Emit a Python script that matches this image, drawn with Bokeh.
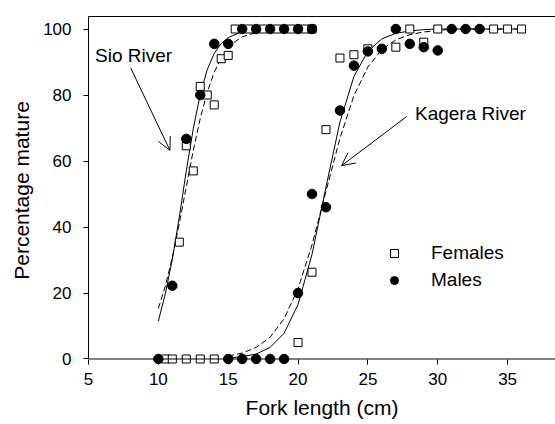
from bokeh.plotting import figure
from bokeh.models import (Range1d, LinearAxis, FixedTicker, Span, Label, Arrow,
                          OpenHead, Legend, LegendItem)
from bokeh.embed import file_html
from bokeh.resources import INLINE

# ---- data ----
x_ticks = [5, 10, 15, 20, 25, 30, 35]
y_ticks = [0, 20, 40, 60, 80, 100]

sio_fem_x = [10.5, 11, 12, 13, 14, 11.5, 12, 12.5, 13, 13.5, 14, 14.5, 15,
             15.5, 16.5, 17.5, 18.5, 19.5, 20.5, 21]
sio_fem_y = [0, 0, 0, 0, 0, 35.4, 64.6, 57, 82.6, 80, 77, 91, 92,
             100, 100, 100, 100, 100, 100, 100]
sio_male_x = [10, 11, 12, 13, 14, 15, 16, 17, 18, 19, 20, 21]
sio_male_y = [0, 22.2, 66.7, 80, 95.5, 95.5, 100, 100, 100, 100, 100, 100]

kag_fem_x = [20, 21, 22, 23, 24, 25, 27, 29, 28, 30, 34, 35, 36]
kag_fem_y = [5, 26.3, 69.5, 91.2, 92.2, 94, 94.5, 96, 100, 100, 100, 100, 100]
kag_male_x = [15, 16, 17, 18, 19, 20, 21, 22, 23, 24, 25, 26, 27, 28, 29, 30,
              31, 32, 33]
kag_male_y = [0, 0, 0, 0, 0, 20, 50, 46, 75.3, 88.9, 93.2, 94, 100, 95.5,
              94.5, 93.5, 100, 100, 100]

# fitted curves
sio_solid_x = [10, 10.5, 11, 11.5, 12, 12.5, 13, 13.5, 14, 14.5, 15, 16, 17, 18, 19, 20, 21]
sio_solid_y = [11.5, 19.8, 30.2, 43.0, 57.0, 69.8, 80.2, 87.7, 92.6, 95.6, 97.4,
               99.2, 99.7, 100, 100, 100, 100]
sio_dash_x = [10, 10.5, 11, 11.5, 12, 12.5, 13, 13.5, 14, 14.5, 15, 15.5, 16, 17, 18, 19, 20, 21]
sio_dash_y = [15.3, 22.1, 30.8, 41.1, 52.2, 63.2, 72.9, 80.8, 86.9, 91.2, 94.2,
              96.2, 97.6, 99.0, 99.6, 100, 100, 100]
kag_solid_x = [15, 16, 17, 18, 19, 20, 21, 22, 23, 24, 25, 26, 27, 28, 29, 30,
               31, 32, 33, 34, 35, 36]
kag_solid_y = [0.3, 0.7, 1.5, 3.5, 7.8, 16.5, 31.7, 52.1, 71.8, 85.6, 93.3, 97.0,
               98.7, 99.4, 99.8, 100, 100, 100, 100, 100, 100, 100]
kag_dash_x = [15, 16, 17, 18, 19, 20, 21, 22, 23, 24, 25, 26, 27, 28, 29, 30,
              31, 32, 33, 34, 35, 36]
kag_dash_y = [0.9, 1.8, 3.5, 6.6, 12.2, 21.3, 34.6, 50.8, 66.9, 79.8, 88.5, 93.8,
              96.7, 98.3, 99.1, 99.5, 100, 100, 100, 100, 100, 100]

FONT = "Liberation Sans"

p = figure(frame_width=467, frame_height=348,
           x_range=Range1d(5, 38.43), y_range=Range1d(-1.667, 103.79),
           output_backend="svg", toolbar_location=None,
           min_border_left=88, min_border_right=0, min_border_top=16,
           min_border_bottom=60)
p.outline_line_color = None
p.grid.visible = False
p.background_fill_color = "white"
p.border_fill_color = "white"

# bottom axis (ticks drawn inward from frame bottom up to y=0 line)
xa = p.xaxis[0]
xa.ticker = FixedTicker(ticks=x_ticks)
xa.axis_line_color = None
xa.major_tick_in = 5
xa.major_tick_out = 0
xa.minor_tick_line_color = None
xa.major_tick_line_color = "black"
xa.major_label_text_font = FONT
xa.major_label_text_font_size = "17px"
xa.major_label_text_color = "black"
xa.major_label_standoff = 8
xa.axis_label = "Fork length (cm)"
xa.axis_label_text_font = FONT
xa.axis_label_text_font_size = "21px"
xa.axis_label_text_font_style = "normal"
xa.axis_label_text_color = "black"
xa.axis_label_standoff = 8

ya = p.yaxis[0]
ya.ticker = FixedTicker(ticks=y_ticks)
ya.bounds = (0, 103.79)
ya.axis_line_color = "black"
ya.major_tick_in = 0
ya.major_tick_out = 5
ya.minor_tick_line_color = None
ya.major_tick_line_color = "black"
ya.major_label_text_font = FONT
ya.major_label_text_font_size = "17px"
ya.major_label_text_color = "black"
ya.major_label_standoff = 12
ya.axis_label = "Percentage mature"
ya.axis_label_text_font = FONT
ya.axis_label_text_font_size = "21px"
ya.axis_label_text_font_style = "normal"
ya.axis_label_text_color = "black"
ya.axis_label_standoff = 7

top = LinearAxis(ticker=FixedTicker(ticks=[]), major_label_text_font_size="0px",
                 major_tick_line_color=None, minor_tick_line_color=None,
                 axis_line_color="black")
p.add_layout(top, "above")

p.add_layout(Span(location=0, dimension="width", line_color="black", line_width=1))

# curves
p.line(sio_solid_x, sio_solid_y, line_color="black", line_width=1)
p.line(sio_dash_x, sio_dash_y, line_color="black", line_width=1, line_dash="6 3")
p.line(kag_solid_x, kag_solid_y, line_color="black", line_width=1)
p.line(kag_dash_x, kag_dash_y, line_color="black", line_width=1, line_dash="6 3")

fem = p.scatter(sio_fem_x + kag_fem_x, sio_fem_y + kag_fem_y, marker="square",
                size=8, fill_color="white", line_color="black", line_width=1)
male = p.scatter(sio_male_x + kag_male_x, sio_male_y + kag_male_y, marker="circle",
                 size=9.5, fill_color="black", line_color="black")

# annotations
p.add_layout(Label(x=5.47, y=92, text="Sio River", text_font=FONT,
                   text_font_size="19px", text_baseline="middle", text_color="black"))
p.add_layout(Label(x=28.37, y=74.4, text="Kagera River", text_font=FONT,
                   text_font_size="19px", text_baseline="middle", text_color="black"))
p.add_layout(Arrow(end=OpenHead(size=13, line_width=1, line_color="black"),
                   x_start=8.02, y_start=88.2, x_end=10.83, y_end=63.2,
                   line_color="black", line_width=1))
p.add_layout(Arrow(end=OpenHead(size=13, line_width=1, line_color="black"),
                   x_start=27.78, y_start=73.5, x_end=23.12, y_end=58.6,
                   line_color="black", line_width=1))

legend = Legend(items=[LegendItem(label="Females", renderers=[fem]),
                       LegendItem(label="Males", renderers=[male])],
                location=(296, 73), padding=0, margin=0, spacing=5,
                glyph_width=20, glyph_height=20, label_height=20,
                label_standoff=27, label_text_font=FONT,
                label_text_font_size="19px", label_text_color="black",
                background_fill_alpha=0, border_line_color=None)
p.add_layout(legend, "center")

open("out.html", "w").write(file_html(p, INLINE))
